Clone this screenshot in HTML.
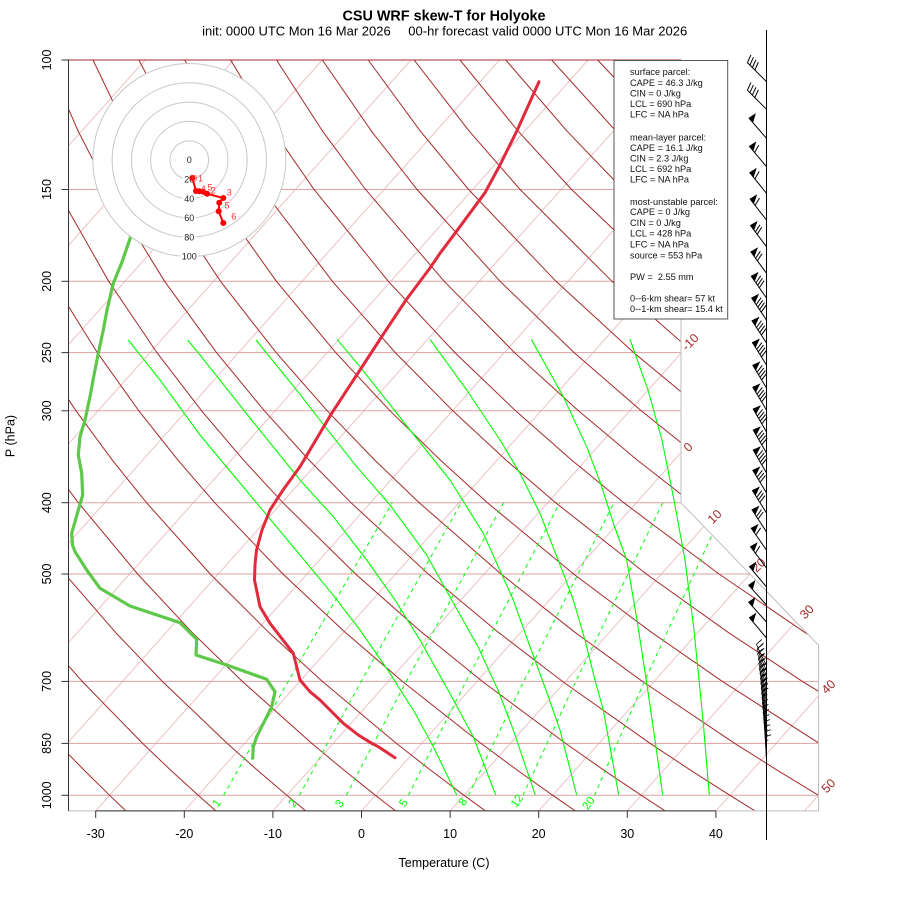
<!DOCTYPE html>
<html><head><meta charset="utf-8"><style>
html,body{margin:0;padding:0;background:#fff}
svg{display:block}
text{font-family:"Liberation Sans",Arial,sans-serif}
</style></head><body>
<svg width="900" height="900" viewBox="0 0 900 900" xmlns="http://www.w3.org/2000/svg">
<defs>
<clipPath id="fr"><polygon points="68.5,60 681,60 681,502.7 818.5,645.2 818.5,810.9 68.5,810.9"/></clipPath>
<g id="b0f4" stroke="#000" stroke-width="1" fill="none"><path d="M0,0V-27M0,-27l8,-3M0,-23.5l8,-3M0,-20l8,-3M0,-16.5l8,-3"/></g>
<g id="p0"><path d="M0,0V-27" stroke="#000" stroke-width="1"/><polygon points="0,-27 8.5,-26 0,-20.5" fill="#000"/></g>
<g id="p1"><use href="#p0"/><path d="M0,-18.5l8,-3" stroke="#000"/></g>
<g id="p2"><use href="#p1"/><path d="M0,-15.5l8,-3" stroke="#000"/></g>
<g id="p3"><use href="#p2"/><path d="M0,-12.5l8,-3" stroke="#000"/></g>
<g id="p4"><use href="#p3"/><path d="M0,-9.5l8,-3" stroke="#000"/></g>
<g id="d2" stroke="#000" stroke-width="0.8" fill="none"><path d="M0,0V-24M0,-24l7,-2M0,-20l7,-2M0,-16l3.5,-1"/></g>
<g id="d1" stroke="#000" stroke-width="0.8" fill="none"><path d="M0,0V-24M0,-24l6,-2M0,-20l3,-1"/></g>
</defs>
<rect width="900" height="900" fill="#fff"/>

<g clip-path="url(#fr)">
<g stroke="#ebc3c3" stroke-width="1" fill="none">
<line x1="-524.6" y1="810.9" x2="145.1" y2="60"/>
<line x1="-436" y1="810.9" x2="233.7" y2="60"/>
<line x1="-347.4" y1="810.9" x2="322.3" y2="60"/>
<line x1="-258.8" y1="810.9" x2="410.9" y2="60"/>
<line x1="-170.2" y1="810.9" x2="499.5" y2="60"/>
<line x1="-81.6" y1="810.9" x2="588.1" y2="60"/>
<line x1="7" y1="810.9" x2="676.7" y2="60"/>
<line x1="95.7" y1="810.9" x2="765.3" y2="60"/>
<line x1="184.3" y1="810.9" x2="853.9" y2="60"/>
<line x1="272.9" y1="810.9" x2="942.5" y2="60"/>
<line x1="361.5" y1="810.9" x2="1031.2" y2="60"/>
<line x1="450.1" y1="810.9" x2="1119.8" y2="60"/>
<line x1="538.7" y1="810.9" x2="1208.4" y2="60"/>
<line x1="627.3" y1="810.9" x2="1297" y2="60"/>
<line x1="715.9" y1="810.9" x2="1385.6" y2="60"/>
<line x1="804.5" y1="810.9" x2="1474.2" y2="60"/>
</g>
<g stroke="#dba3a3" stroke-width="1">
<line x1="68.5" y1="795.3" x2="818.5" y2="795.3"/>
<line x1="68.5" y1="743.4" x2="818.5" y2="743.4"/>
<line x1="68.5" y1="681.4" x2="818.5" y2="681.4"/>
<line x1="68.5" y1="574" x2="750" y2="574"/>
<line x1="68.5" y1="502.7" x2="681" y2="502.7"/>
<line x1="68.5" y1="410.8" x2="681" y2="410.8"/>
<line x1="68.5" y1="352.6" x2="681" y2="352.6"/>
<line x1="68.5" y1="281.3" x2="681" y2="281.3"/>
<line x1="68.5" y1="189.5" x2="681" y2="189.5"/>
</g>
<g stroke="#a52a2a" stroke-width="1" fill="none">
<polyline points="125.9,810.9 109.6,795.3 84.3,770.4 58,743.4"/>
<polyline points="215.8,810.9 198.2,795.3 170.9,770.4 142.6,743.4 82.2,681.4 38.8,632.2"/>
<polyline points="305.7,810.9 286.8,795.3 257.6,770.4 227.2,743.4 162.3,681.4 115.3,632.2 64.9,574"/>
<polyline points="395.5,810.9 375.4,795.3 344.3,770.4 311.8,743.4 242.3,681.4 191.9,632.2 137.6,574 78.3,502.7 46.6,460.1"/>
<polyline points="485.4,810.9 464,795.3 430.9,770.4 396.4,743.4 322.3,681.4 268.5,632.2 210.2,574 146.5,502.7 112.3,460.1 76,410.8 37.6,352.6"/>
<polyline points="575.3,810.9 552.7,795.3 517.6,770.4 481,743.4 402.3,681.4 345.1,632.2 282.9,574 214.7,502.7 177.9,460.1 138.8,410.8 97.3,352.6 52.8,281.3"/>
<polyline points="665.1,810.9 641.3,795.3 604.2,770.4 565.6,743.4 482.3,681.4 421.6,632.2 355.6,574 282.9,502.7 243.5,460.1 201.6,410.8 156.9,352.6 108.7,281.3 56.6,189.5"/>
<polyline points="755,810.9 729.9,795.3 690.9,770.4 650.2,743.4 562.4,681.4 498.2,632.2 428.3,574 351,502.7 309.1,460.1 264.4,410.8 216.5,352.6 164.6,281.3 108.1,189.5 78.2,131.2 47.1,60"/>
<polyline points="844.8,810.9 818.5,795.3 777.6,770.4 734.8,743.4 642.4,681.4 574.8,632.2 501,574 419.2,502.7 374.8,460.1 327.2,410.8 276.1,352.6 220.5,281.3 159.6,189.5 127.1,131.2 93,60"/>
<polyline points="907.1,795.3 864.2,770.4 819.3,743.4 722.4,681.4 651.3,632.2 573.6,574 487.4,502.7 440.4,460.1 390,410.8 335.7,352.6 276.4,281.3 211.1,189.5 176,131.2 138.9,60"/>
<polyline points="903.9,743.4 802.4,681.4 727.9,632.2 646.3,574 555.6,502.7 506,460.1 452.8,410.8 395.3,352.6 332.4,281.3 262.6,189.5 224.9,131.2 184.7,60"/>
<polyline points="882.4,681.4 804.5,632.2 719,574 623.8,502.7 571.7,460.1 515.6,410.8 454.9,352.6 388.3,281.3 314.1,189.5 273.7,131.2 230.6,60"/>
<polyline points="881,632.2 791.7,574 691.9,502.7 637.3,460.1 578.4,410.8 514.5,352.6 444.2,281.3 365.6,189.5 322.6,131.2 276.5,60"/>
<polyline points="864.4,574 760.1,502.7 702.9,460.1 641.2,410.8 574.1,352.6 500.1,281.3 417.1,189.5 371.5,131.2 322.4,60"/>
<polyline points="828.3,502.7 768.6,460.1 704,410.8 633.7,352.6 556,281.3 468.6,189.5 420.4,131.2 368.2,60"/>
<polyline points="834.2,460.1 766.8,410.8 693.4,352.6 612,281.3 520.1,189.5 469.3,131.2 414.1,60"/>
<polyline points="829.6,410.8 753,352.6 667.9,281.3 571.6,189.5 518.2,131.2 460,60"/>
<polyline points="812.6,352.6 723.8,281.3 623.1,189.5 567.1,131.2 505.8,60"/>
<polyline points="779.7,281.3 674.6,189.5 616,131.2 551.7,60"/>
<polyline points="835.6,281.3 726.1,189.5 664.9,131.2 597.6,60"/>
<polyline points="777.6,189.5 713.8,131.2 643.4,60"/>
</g>
<g stroke="#00ff00" stroke-width="1" fill="none" stroke-dasharray="4 4">
<polyline points="223.6,795.3 288.2,681.4 392.3,502.7"/>
<polyline points="299.4,795.3 361.2,681.4 461.2,502.7"/>
<polyline points="346.3,795.3 406.3,681.4 503.6,502.7"/>
<polyline points="408.4,795.3 466,681.4 559.8,502.7"/>
<polyline points="468.5,795.3 523.7,681.4 614,502.7"/>
<polyline points="522.9,795.3 575.8,681.4 662.8,502.7"/>
<polyline points="594.4,795.3 644.4,681.4 727,502.7"/>
</g>
<g stroke="#00ff00" stroke-width="1.1" fill="none" stroke-linejoin="round">
<polyline points="128.3,340 160,380 200,435 250,495 300,555 331.7,593.3 360,630 390,673.3 415,713 433.3,746.7 456.7,795"/>
<polyline points="187.7,340 200,355 250,418 300,480 333.3,516.7 366.7,560 395,600 420,640 448,690 473.3,736.7 495.7,795"/>
<polyline points="256,340 300,394.3 325,426.7 356.7,466.7 390,505 426.7,555 451.7,600 478,646.7 498,690 513.3,730 535.3,795"/>
<polyline points="337,339.3 360,366.7 410,430 450,480 483.3,533.3 513.3,600 530,646.7 546,690 560,730 576.7,795"/>
<polyline points="430,339.3 466.7,390 500,440 520,473.3 540,513.3 563.3,573.3 573.3,600 585,640 595,680 603.3,710 618.7,795"/>
<polyline points="531.3,339.3 563.3,396.7 586.7,446.7 600,481.7 614,525 626.7,560 637,620 646.7,683 655,740 662.7,795"/>
<polyline points="630,339.3 648,390 662,440 674,500 685,560 694,630 703.3,723 709.3,795"/>
</g>
</g>

<polygon points="68.5,60 681,60 681,502.7 818.5,645.2 818.5,810.9 68.5,810.9" fill="none" stroke="#bebebe" stroke-width="1"/>
<line x1="68.5" y1="60" x2="681" y2="60" stroke="#a52a2a" stroke-width="1"/>

<g stroke="#333" stroke-width="1">
<line x1="68.5" y1="60" x2="68.5" y2="810.9"/>
<line x1="95.7" y1="810.9" x2="715.9" y2="810.9"/>
<line x1="61.5" y1="795.3" x2="68.5" y2="795.3"/>
<line x1="61.5" y1="743.4" x2="68.5" y2="743.4"/>
<line x1="61.5" y1="681.4" x2="68.5" y2="681.4"/>
<line x1="61.5" y1="574" x2="68.5" y2="574"/>
<line x1="61.5" y1="502.7" x2="68.5" y2="502.7"/>
<line x1="61.5" y1="410.8" x2="68.5" y2="410.8"/>
<line x1="61.5" y1="352.6" x2="68.5" y2="352.6"/>
<line x1="61.5" y1="281.3" x2="68.5" y2="281.3"/>
<line x1="61.5" y1="189.5" x2="68.5" y2="189.5"/>
<line x1="61.5" y1="60" x2="68.5" y2="60"/>
<line x1="95.7" y1="810.9" x2="95.7" y2="817.9"/>
<line x1="184.3" y1="810.9" x2="184.3" y2="817.9"/>
<line x1="272.9" y1="810.9" x2="272.9" y2="817.9"/>
<line x1="361.5" y1="810.9" x2="361.5" y2="817.9"/>
<line x1="450.1" y1="810.9" x2="450.1" y2="817.9"/>
<line x1="538.7" y1="810.9" x2="538.7" y2="817.9"/>
<line x1="627.3" y1="810.9" x2="627.3" y2="817.9"/>
<line x1="715.9" y1="810.9" x2="715.9" y2="817.9"/>
</g>
<g font-size="12.5" fill="#000" text-anchor="middle">
<text x="95.7" y="837.8">-30</text>
<text x="184.3" y="837.8">-20</text>
<text x="272.9" y="837.8">-10</text>
<text x="361.5" y="837.8">0</text>
<text x="450.1" y="837.8">10</text>
<text x="538.7" y="837.8">20</text>
<text x="627.3" y="837.8">30</text>
<text x="715.9" y="837.8">40</text>
<text x="444" y="867">Temperature (C)</text>
<text transform="translate(51.2,795.3) rotate(-90)">1000</text>
<text transform="translate(51.2,743.4) rotate(-90)">850</text>
<text transform="translate(51.2,681.4) rotate(-90)">700</text>
<text transform="translate(51.2,574) rotate(-90)">500</text>
<text transform="translate(51.2,502.7) rotate(-90)">400</text>
<text transform="translate(51.2,410.8) rotate(-90)">300</text>
<text transform="translate(51.2,352.6) rotate(-90)">250</text>
<text transform="translate(51.2,281.3) rotate(-90)">200</text>
<text transform="translate(51.2,189.5) rotate(-90)">150</text>
<text transform="translate(51.2,60) rotate(-90)">100</text>
<text transform="translate(14.5,436) rotate(-90)">P (hPa)</text>
</g>

<text x="444" y="20.3" font-size="14.4" font-weight="bold" text-anchor="middle" fill="#000">CSU WRF skew-T for Holyoke</text>
<text x="390.7" y="35.6" font-size="13" text-anchor="end" fill="#000">init: 0000 UTC Mon 16 Mar 2026</text>
<text x="408.3" y="35.6" font-size="13" fill="#000">00-hr forecast valid 0000 UTC Mon 16 Mar 2026</text>

<g font-size="12.5" fill="#a52a2a" text-anchor="middle">
<text transform="translate(690,342) rotate(-45)" dy="0.35em">-10</text>
<text transform="translate(688,447) rotate(-45)" dy="0.35em">0</text>
<text transform="translate(714.5,516.5) rotate(-45)" dy="0.35em">10</text>
<text transform="translate(758.5,565) rotate(-45)" dy="0.35em">20</text>
<text transform="translate(806.7,611.7) rotate(-45)" dy="0.35em">30</text>
<text transform="translate(828.3,686.7) rotate(-45)" dy="0.35em">40</text>
<text transform="translate(828.3,785.7) rotate(-45)" dy="0.35em">50</text>
</g>
<g font-size="11.5" fill="#00ff00" text-anchor="middle">
<text transform="translate(216.5,803) rotate(-55)" dy="0.35em">1</text>
<text transform="translate(292.5,803) rotate(-55)" dy="0.35em">2</text>
<text transform="translate(339.3,803.5) rotate(-55)" dy="0.35em">3</text>
<text transform="translate(403.3,802.7) rotate(-55)" dy="0.35em">5</text>
<text transform="translate(462.7,801.7) rotate(-55)" dy="0.35em">8</text>
<text transform="translate(516.7,800.7) rotate(-55)" dy="0.35em">12</text>
<text transform="translate(588.3,803) rotate(-55)" dy="0.35em">20</text>
</g>

<polyline fill="none" stroke="#5ec84a" stroke-width="3.2" stroke-linejoin="round" stroke-linecap="round" points="150,195 130.7,236.7 122,262 113.3,283.3 107,310 103.3,330 98.3,353.3 94,375 90,396.7 85,420 80,436.7 78.3,455 81.7,473.3 82.7,495 78.3,510 71.7,533.3 72.5,545 75,551.7 86.7,570 100,588.3 130,606 180,622.7 196.7,639.3 196,655 226.7,665 266.7,679.3 275,691.7 271.7,706.7 256.7,736.7 253.3,746.7 252.7,758.3"/>
<polyline fill="none" stroke="#e12a3c" stroke-width="3" stroke-linejoin="round" stroke-linecap="round" points="539,81.7 517.3,130 500,165 485,192.7 455,233.3 440,253.3 430,268 406,300 381.7,336.7 360,370 331.7,413.3 300,466.7 283,490 270,510 262,530 256.5,550 255,565 254.5,580 260,606.7 270,623.3 293.3,653.3 300,680 310,691.7 320,700 343.3,723.3 358.3,735 371.7,743.3 378.3,746.7 395,757.7"/>

<circle cx="189.3" cy="160" r="96.5" fill="#fff" stroke="#c8c8c8" stroke-width="1"/>
<g fill="none" stroke="#c8c8c8" stroke-width="1">
<circle cx="189.3" cy="160" r="19.3"/>
<circle cx="189.3" cy="160" r="38.6"/>
<circle cx="189.3" cy="160" r="57.9"/>
<circle cx="189.3" cy="160" r="77.2"/>
</g>
<g fill="#fff">
<rect x="183" y="174.5" width="12.6" height="9"/>
<rect x="183" y="193.8" width="12.6" height="9"/>
<rect x="183" y="213.1" width="12.6" height="9"/>
<rect x="183" y="232.4" width="12.6" height="9"/>
<rect x="180.5" y="251.7" width="17.6" height="9"/>
</g>
<g font-size="9" fill="#222" text-anchor="middle">
<text x="189.3" y="163.2">0</text>
<text x="189.3" y="182.5">20</text>
<text x="189.3" y="201.8">40</text>
<text x="189.3" y="221.1">60</text>
<text x="189.3" y="240.4">80</text>
<text x="189.3" y="259.7">100</text>
</g>
<polyline fill="none" stroke="#ff0000" stroke-width="2" points="192.3,178 196,191 199.3,191.3 203.3,191.7 207,193.7 223.3,198 219.3,202.7 218.7,211.3 223.3,223"/>
<g fill="#ff0000">
<circle cx="192.3" cy="178" r="3"/>
<circle cx="196" cy="191" r="3"/>
<circle cx="199.3" cy="191.3" r="3"/>
<circle cx="203.3" cy="191.7" r="3"/>
<circle cx="207" cy="193.7" r="3"/>
<circle cx="223.3" cy="198" r="3"/>
<circle cx="219.3" cy="202.7" r="3"/>
<circle cx="218.7" cy="211.3" r="3"/>
<circle cx="223.3" cy="223" r="3"/>
</g>
<g font-size="9" fill="#ff3030" text-anchor="middle">
<text x="194.5" y="181.5">0</text>
<text x="200.5" y="181.5">1</text>
<text x="203.3" y="192">4</text>
<text x="210" y="190.7">5</text>
<text x="213.3" y="193.7">2</text>
<text x="229.3" y="195.3">3</text>
<text x="227" y="208.7">5</text>
<text x="233.7" y="219.7">6</text>
</g>

<rect x="614" y="60.5" width="113.7" height="258.5" fill="#fff" stroke="#555" stroke-width="1"/>
<g font-size="9.2" fill="#111">
<text x="630" y="75.2">surface parcel:</text>
<text x="630" y="85.9">CAPE = 46.3 J/kg</text>
<text x="630" y="96.5">CIN = 0 J/kg</text>
<text x="630" y="106.9">LCL = 690 hPa</text>
<text x="630" y="117.5">LFC = NA hPa</text>
<text x="630" y="140.5">mean-layer parcel:</text>
<text x="630" y="150.9">CAPE = 16.1 J/kg</text>
<text x="630" y="161.5">CIN = 2.3 J/kg</text>
<text x="630" y="171.9">LCL = 692 hPa</text>
<text x="630" y="182.5">LFC = NA hPa</text>
<text x="630" y="204.9">most-unstable parcel:</text>
<text x="630" y="215.2">CAPE = 0 J/kg</text>
<text x="630" y="225.9">CIN = 0 J/kg</text>
<text x="630" y="236.5">LCL = 428 hPa</text>
<text x="630" y="247.5">LFC = NA hPa</text>
<text x="630" y="258.5">source = 553 hPa</text>
<text x="630" y="279.9" xml:space="preserve">PW =  2.55 mm</text>
<text x="630" y="301.5">0--6-km shear= 57 kt</text>
<text x="630" y="311.9">0--1-km shear= 15.4 kt</text>
</g>

<line x1="766.5" y1="30" x2="766.5" y2="840" stroke="#000" stroke-width="1"/>
<use href="#b0f4" transform="translate(766.5,81.7) rotate(-45)"/>
<use href="#b0f4" transform="translate(766.5,109.3) rotate(-45)"/>
<use href="#p0" transform="translate(766.5,138.3) rotate(-41)"/>
<use href="#p1" transform="translate(766.5,166.7) rotate(-40)"/>
<use href="#p1" transform="translate(766.5,193.3) rotate(-39)"/>
<use href="#p1" transform="translate(766.5,220) rotate(-38)"/>
<use href="#p2" transform="translate(766.5,246.7) rotate(-37)"/>
<use href="#p2" transform="translate(766.5,273.3) rotate(-36)"/>
<use href="#p3" transform="translate(766.5,298) rotate(-35)"/>
<use href="#p4" transform="translate(766.5,320) rotate(-34)"/>
<use href="#p4" transform="translate(766.5,343) rotate(-33)"/>
<use href="#p4" transform="translate(766.5,365) rotate(-32)"/>
<use href="#p4" transform="translate(766.5,388) rotate(-31)"/>
<use href="#p4" transform="translate(766.5,410) rotate(-31)"/>
<use href="#p4" transform="translate(766.5,432) rotate(-30)"/>
<use href="#p4" transform="translate(766.5,453) rotate(-30)"/>
<use href="#p4" transform="translate(766.5,473) rotate(-30)"/>
<use href="#p3" transform="translate(766.5,493) rotate(-31)"/>
<use href="#p3" transform="translate(766.5,513) rotate(-32)"/>
<use href="#p2" transform="translate(766.5,532) rotate(-33)"/>
<use href="#p1" transform="translate(766.5,550) rotate(-35)"/>
<use href="#p1" transform="translate(766.5,568) rotate(-37)"/>
<use href="#p0" transform="translate(766.5,587) rotate(-40)"/>
<use href="#p0" transform="translate(766.5,605) rotate(-42)"/>
<use href="#p0" transform="translate(766.5,622) rotate(-42)"/>
<use href="#p0" transform="translate(766.5,638) rotate(-40)"/>
<use href="#d2" transform="translate(766.5,666) rotate(-25)"/>
<use href="#d2" transform="translate(766.5,671) rotate(-23)"/>
<use href="#d2" transform="translate(766.5,676) rotate(-22)"/>
<use href="#d2" transform="translate(766.5,681) rotate(-20)"/>
<use href="#d2" transform="translate(766.5,686) rotate(-19)"/>
<use href="#d2" transform="translate(766.5,691) rotate(-18)"/>
<use href="#d2" transform="translate(766.5,696) rotate(-16)"/>
<use href="#d2" transform="translate(766.5,701) rotate(-15)"/>
<use href="#d2" transform="translate(766.5,706) rotate(-14)"/>
<use href="#d2" transform="translate(766.5,711) rotate(-13)"/>
<use href="#d1" transform="translate(766.5,716) rotate(-12)"/>
<use href="#d1" transform="translate(766.5,721) rotate(-11)"/>
<use href="#d1" transform="translate(766.5,726) rotate(-10)"/>
<use href="#d1" transform="translate(766.5,731) rotate(-9)"/>
<use href="#d1" transform="translate(766.5,736) rotate(-8)"/>
<use href="#d1" transform="translate(766.5,741) rotate(-7)"/>
<use href="#d1" transform="translate(766.5,746) rotate(-6)"/>
<use href="#d1" transform="translate(766.5,751) rotate(-5)"/>
<use href="#d1" transform="translate(766.5,756) rotate(-4)"/>
<use href="#d1" transform="translate(766.5,761) rotate(-3)"/>
</svg>
</body></html>
